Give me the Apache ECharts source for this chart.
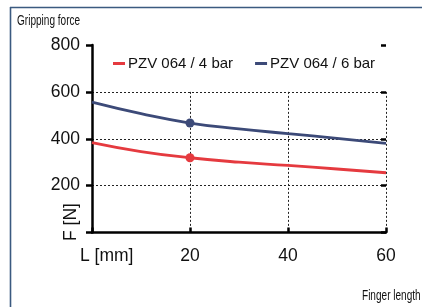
<!DOCTYPE html>
<html><head><meta charset="utf-8">
<script src="https://cdn.jsdelivr.net/npm/echarts@6/dist/echarts.min.js"></script>
<style>html,body{margin:0;padding:0;background:#fff}#c{width:422px;height:307px}</style>
</head><body><div id="c"></div>
<script>
const lengths = [0, 10, 20, 30, 40, 50, 60];
const force4bar = [383, 345, 319, 300, 286, 271, 255];
const force6bar = [556, 507, 467, 442, 422, 402, 380];
const markedLengths = [20];
const seriesNames = ['PZV 064 / 4 bar', 'PZV 064 / 6 bar'];
const yTicks = [0, 200, 400, 600, 800];
const xTicks = [0, 20, 40, 60];

const FONT = '"Liberation Sans", Arial, sans-serif';
const NARROW = '"Liberation Sans", Arial, sans-serif';
const colors = ['#e53a3f', '#3c4a78'];

function mkData(vals) {
  return lengths.map((x, i) => ({
    value: [x, vals[i]],
    symbol: markedLengths.includes(x) ? 'circle' : 'none'
  }));
}

const chart = echarts.init(document.getElementById('c'), null, {renderer: 'canvas'});
const G = {left: 92, right: 36, top: 45, bottom: 74.5};
const plotH = 307 - G.top - G.bottom;
const y600Top = G.top + (800 - 600) / 800 * plotH;

chart.setOption({
  animation: false,
  color: colors,
  textStyle: {fontFamily: FONT},
  grid: [
    {left: G.left, right: G.right, top: G.top, bottom: G.bottom},
    {left: G.left, right: G.right, top: y600Top, bottom: G.bottom}
  ],
  legend: {
    left: 108, top: 51,
    itemWidth: 12, itemHeight: 3, itemGap: 22,
    icon: 'rect',
    textStyle: {fontSize: 15, color: '#111', fontFamily: FONT, padding: [0, 0, 0, -2]},
    data: seriesNames
  },
  xAxis: [
    {
      type: 'value', gridIndex: 0, min: 0, max: 60, interval: 20,
      axisLine: {show: true, lineStyle: {color: '#000', width: 2.5}},
      axisTick: {show: true, inside: true, length: 5, lineStyle: {color: '#000', width: 2.5}},
      axisLabel: {fontSize: 17.5, color: '#111', margin: 15, fontFamily: FONT,
        formatter: v => v === 0 ? '' : String(v)},
      splitLine: {show: false}
    },
    {
      type: 'value', gridIndex: 1, min: 0, max: 60, interval: 20,
      axisLine: {show: false}, axisTick: {show: false}, axisLabel: {show: false},
      splitLine: {show: true, lineStyle: {color: '#222', width: 1, type: [2, 2]}}
    }
  ],
  yAxis: [
    {
      type: 'value', gridIndex: 0, min: 0, max: 800, interval: 200,
      axisLine: {show: true, lineStyle: {color: '#000', width: 2.5}},
      axisTick: {show: true, length: 6, lineStyle: {color: '#000', width: 2.5}},
      axisLabel: {fontSize: 17.5, color: '#111', margin: 12, fontFamily: FONT,
        formatter: v => v === 0 ? '' : String(v)},
      splitLine: {show: false}
    },
    {
      type: 'value', gridIndex: 0, min: 0, max: 800, interval: 200,
      axisLine: {show: false},
      axisTick: {show: true, inside: true, length: 5, lineStyle: {color: '#000', width: 2.5}},
      axisLabel: {show: false},
      splitLine: {show: false}
    },
    {
      type: 'value', gridIndex: 1, min: 0, max: 600, interval: 200,
      axisLine: {show: false}, axisTick: {show: false}, axisLabel: {show: false},
      splitLine: {show: true, lineStyle: {color: '#222', width: 1, type: [2, 2]}}
    }
  ],
  series: [
    {
      name: seriesNames[0], type: 'line', xAxisIndex: 0, yAxisIndex: 0,
      smooth: true, symbolSize: 9, z: 5,
      lineStyle: {width: 2.8, color: colors[0]},
      itemStyle: {color: colors[0]},
      data: mkData(force4bar)
    },
    {
      name: seriesNames[1], type: 'line', xAxisIndex: 0, yAxisIndex: 0,
      smooth: true, symbolSize: 9, z: 5,
      lineStyle: {width: 2.8, color: colors[1]},
      itemStyle: {color: colors[1]},
      data: mkData(force6bar)
    }
  ],
  graphic: [
    {type: 'line', shape: {x1: 10, y1: 7.5, x2: 422, y2: 7.5}, style: {stroke: '#3b5a80', lineWidth: 1.6}},
    {type: 'line', shape: {x1: 10.5, y1: 7, x2: 10.5, y2: 307}, style: {stroke: '#3b5a80', lineWidth: 1.6}},
    {type: 'text', x: 17, y: 21, scaleX: 0.67, style: {text: 'Gripping force', font: '15px ' + NARROW, fill: '#111', verticalAlign: 'middle'}},
    {type: 'text', x: 362, y: 296, scaleX: 0.67, style: {text: 'Finger length', font: '15px ' + NARROW, fill: '#111', verticalAlign: 'middle'}},
    {type: 'text', left: 80, top: 247, style: {text: 'L [mm]', font: '17.5px ' + FONT, fill: '#111'}},
    {type: 'text', x: 62, y: 241, rotation: Math.PI / 2, style: {text: 'F [N]', font: '17.5px ' + FONT, fill: '#111'}}
  ]
});
</script>
</body></html>
